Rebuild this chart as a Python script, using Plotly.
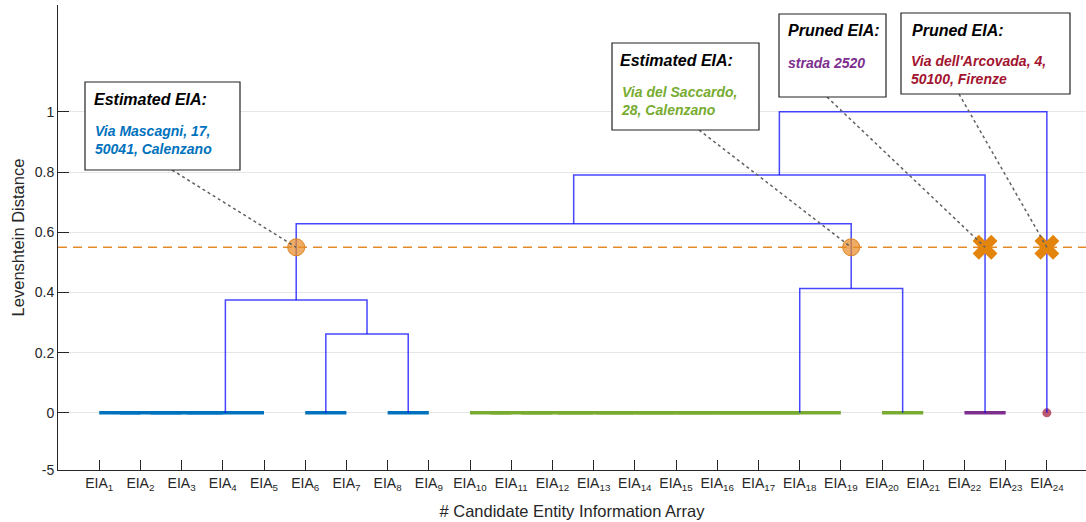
import plotly.graph_objects as go

# ---------------- data ----------------
leaf_labels = [f"EIA<sub>{i}</sub>" for i in range(1, 25)]
leaf_cluster = [0] * 9 + [1] * 12 + [2] * 2 + [3]
cluster_colors = ["#0072BD", "#77AC30", "#7E2F8E", "#A2142F"]

# linkage (MATLAB style): row k merges link_a[k] and link_b[k] into node 25+k
link_a = [1, 25, 26, 27, 6, 8, 29, 28, 10, 33, 34, 35, 36, 37, 38, 39, 40, 20, 41, 32, 22, 44, 46]
link_b = [2, 3, 4, 5, 7, 9, 30, 31, 11, 12, 13, 14, 15, 16, 17, 18, 19, 21, 42, 43, 23, 45, 24]
link_h = [0, 0, 0, 0, 0, 0, 0.262, 0.375, 0, 0, 0, 0, 0, 0, 0, 0, 0, 0, 0.413, 0.628, 0, 0.79, 1.0]

threshold = 0.55
estimated_nodes = [32, 43]
pruned_nodes = [45, 24]

y_tickvals = [-0.1899, 0, 0.2, 0.4, 0.6, 0.8, 1.0]
y_ticktext = ["-5", "0", "0.2", "0.4", "0.6", "0.8", "1"]

ann_titles = ["Estimated EIA:", "Estimated EIA:", "Pruned EIA:", "Pruned EIA:"]
ann_texts = ["Via Mascagni, 17,<br>50041, Calenzano",
             "Via del Saccardo,<br>28, Calenzano",
             "strada 2520",
             "Via dell'Arcovada, 4,<br>50100, Firenze"]
ann_colors = ["#0072BD", "#77AC30", "#7E2F8E", "#A2142F"]
ann_targets = [32, 43, 45, 24]

# ---------------- layout constants ----------------
W, H = 1086, 522
ML, MR, MT, MB = 58, 0, 5, 52
X0, X1 = 0, 24.95
Y0, Y1 = -0.19, 1.355
PW, PH = W - ML - MR, H - MT - MB


def px2x(p):
    return X0 + (p - ML) / PW * (X1 - X0)


def py2y(p):
    return Y1 - (p - MT) / PH * (Y1 - Y0)


# ---------------- compute dendrogram node positions ----------------
pos = {i: float(i) for i in range(1, 25)}
hgt = {i: 0.0 for i in range(1, 25)}
clus = {i: leaf_cluster[i - 1] for i in range(1, 25)}
for k, (a, b, h) in enumerate(zip(link_a, link_b, link_h)):
    n = 25 + k
    pos[n] = (pos[a] + pos[b]) / 2
    hgt[n] = h
    clus[n] = clus[a] if clus[a] == clus[b] else -1

fig = go.Figure()

# threshold line
fig.add_trace(go.Scatter(x=[X0, X1], y=[threshold, threshold], mode="lines",
                         line=dict(color="#E38B2B", width=1.5, dash="9px,6px"),
                         hoverinfo="skip", showlegend=False))

# zero-height (cluster) links
for c, col in enumerate(cluster_colors):
    xs, ys = [], []
    for a, b, h in zip(link_a, link_b, link_h):
        if h == 0 and clus[a] == c:
            xs += [pos[a], pos[b], None]
            ys += [0, 0, None]
    if xs:
        fig.add_trace(go.Scatter(x=xs, y=ys, mode="lines",
                                 line=dict(color=col, width=3.5),
                                 hoverinfo="skip", showlegend=False))

# single leaf dot
singles = [i for i in range(1, 25) if all(i not in (a, b) or h > 0 for a, b, h in zip(link_a, link_b, link_h))]
fig.add_trace(go.Scatter(x=[pos[i] for i in singles], y=[0 for i in singles], mode="markers",
                         marker=dict(color="rgba(162,20,47,0.7)", size=9,
                                     line=dict(width=0)),
                         hoverinfo="skip", showlegend=False))

# non-zero links (blue)
xs, ys = [], []
for a, b, h in zip(link_a, link_b, link_h):
    if h > 0:
        xs += [pos[a], pos[a], pos[b], pos[b], None]
        ys += [hgt[a], h, h, hgt[b], None]
fig.add_trace(go.Scatter(x=xs, y=ys, mode="lines",
                         line=dict(color="rgba(0,0,255,0.72)", width=1.5),
                         hoverinfo="skip", showlegend=False))

# estimated markers
fig.add_trace(go.Scatter(x=[pos[n] for n in estimated_nodes], y=[threshold] * len(estimated_nodes),
                         mode="markers",
                         marker=dict(size=17, color="rgba(232,140,40,0.72)",
                                     line=dict(color="#DE8420", width=1)),
                         hoverinfo="skip", showlegend=False))
# pruned markers
fig.add_trace(go.Scatter(x=[pos[n] for n in pruned_nodes], y=[threshold] * len(pruned_nodes),
                         mode="markers",
                         marker=dict(size=22, symbol="x", color="#E3850C",
                                     line=dict(width=0)),
                         hoverinfo="skip", showlegend=False))

# annotation boxes (pixel layout)
boxes = [(85, 82, 240, 170), (612, 43, 759, 130), (779, 14, 886, 97), (901, 13, 1070, 94)]
title_pos = [(92, 99), (618, 60.5), (786, 30.5), (910, 30)]
text_pos = [(93, 140), (619, 100.5), (786, 63), (909, 70)]
line_start = [(172, 170), (699, 130), (827, 97), (959, 94)]

shapes = []
annotations = []
for i in range(4):
    x0, y0, x1, y1 = boxes[i]
    sx, sy = line_start[i]
    tgt = ann_targets[i]
    shapes.append(dict(type="line", xref="x", yref="y",
                       x0=px2x(sx), y0=py2y(sy), x1=pos[tgt], y1=threshold,
                       line=dict(color="#606060", width=1.5, dash="dot"), layer="above"))
    shapes.append(dict(type="rect", xref="x", yref="y",
                       x0=px2x(x0), y0=py2y(y0), x1=px2x(x1), y1=py2y(y1),
                       line=dict(color="#222222", width=1.2), fillcolor="white", layer="above"))
    annotations.append(dict(xref="x", yref="y", x=px2x(title_pos[i][0]), y=py2y(title_pos[i][1]),
                            text=f"<b><i>{ann_titles[i]}</i></b>", showarrow=False,
                            xanchor="left", yanchor="middle", align="left",
                            font=dict(family="Liberation Sans, Arial", size=16, color="black")))
    annotations.append(dict(xref="x", yref="y", x=px2x(text_pos[i][0]), y=py2y(text_pos[i][1]),
                            text=f"<b><i>{ann_texts[i]}</i></b>", showarrow=False,
                            xanchor="left", yanchor="middle", align="left",
                            font=dict(family="Liberation Sans, Arial", size=14, color=ann_colors[i])))

axis_font = dict(family="Liberation Sans, Arial", size=14, color="#262626")
title_font = dict(family="Liberation Sans, Arial", size=16.5, color="#262626")

fig.update_layout(
    width=W, height=H,
    margin=dict(l=ML, r=MR, t=MT, b=MB),
    plot_bgcolor="white", paper_bgcolor="white",
    shapes=shapes, annotations=annotations,
    showlegend=False,
    xaxis=dict(range=[X0, X1], tickvals=list(range(1, 25)), ticktext=leaf_labels,
               showgrid=False, zeroline=False, showline=True, linecolor="#262626", linewidth=1,
               ticks="inside", ticklen=10, tickcolor="#262626", tickfont=axis_font,
               title=dict(text="# Candidate Entity Information Array", font=title_font,
                          standoff=13),
               automargin=False, fixedrange=True),
    yaxis=dict(range=[Y0, Y1], tickvals=y_tickvals, ticktext=y_ticktext,
               showgrid=True, gridcolor="#E6E6E6", gridwidth=1, zeroline=False,
               showline=True, linecolor="#262626", linewidth=1,
               ticks="inside", ticklen=11, tickcolor="#262626", tickfont=axis_font,
               title=dict(text="Levenshtein Distance", font=title_font,
                          standoff=5),
               automargin=False, fixedrange=True),
)

fig.write_html("out.html", config={"displayModeBar": False},
               post_script="document.body.style.margin='0';document.body.style.overflow='hidden';")
